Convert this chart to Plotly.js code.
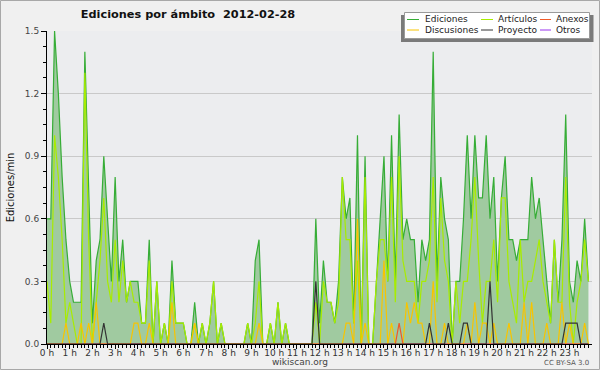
<!DOCTYPE html>
<html><head><meta charset="utf-8">
<script src="https://cdn.plot.ly/plotly-3.0.1.min.js"></script>
<style>html,body{margin:0;padding:0;background:#f0f0f0;}#chart{width:600px;height:370px;}</style>
</head><body><div id="chart"></div>
<script>
// 10-minute buckets, edits per minute (24 h x 6 = 144 points)
const ediciones = [
 0.6,0.6,1.5,1.2,0.8,0.5,0.3,0.2,0.2,0.2,1.4,0.7,
 0.1,0.4,0.5,0.9,0.6,0.3,0.8,0.3,0.5,0.2,0.3,0.3,
 0.3,0.1,0.1,0.5,0.0,0.3,0.0,0.1,0.0,0.4,0.1,0.1,
 0.1,0.0,0.0,0.2,0.0,0.1,0.0,0.1,0.3,0.0,0.1,0.0,
 0.0,0.0,0.0,0.0,0.0,0.1,0.0,0.4,0.5,0.0,0.0,0.1,
 0.0,0.2,0.0,0.1,0.0,0.0,0.0,0.0,0.0,0.0,0.0,0.6,
 0.1,0.4,0.2,0.2,0.1,0.3,0.8,0.6,0.7,0.1,1.0,0.0,
 0.9,0.0,0.0,0.3,0.6,0.9,0.3,1.0,0.3,1.1,0.5,0.6,
 0.5,0.5,0.2,0.5,0.4,0.5,1.4,0.3,0.8,0.6,0.5,0.0,
 0.3,0.3,0.6,1.0,0.6,1.0,0.7,0.7,1.0,0.6,0.8,0.3,
 0.7,0.9,0.5,0.5,0.4,0.5,0.5,0.5,0.8,0.6,0.7,0.5,
 0.3,0.1,0.5,0.2,0.5,1.1,0.3,0.2,0.4,0.3,0.6,0.3
];
const articulos = [
 0.3,0.1,1.0,0.8,0.5,0.1,0.2,0.1,0.0,0.0,1.3,0.5,
 0.0,0.2,0.4,0.7,0.3,0.2,0.5,0.2,0.4,0.2,0.3,0.2,
 0.2,0.1,0.1,0.4,0.0,0.3,0.0,0.1,0.0,0.3,0.1,0.1,
 0.1,0.0,0.0,0.1,0.0,0.1,0.0,0.1,0.3,0.0,0.1,0.0,
 0.0,0.0,0.0,0.0,0.0,0.1,0.0,0.1,0.3,0.0,0.0,0.1,
 0.0,0.2,0.0,0.1,0.0,0.0,0.0,0.0,0.0,0.0,0.0,0.2,
 0.0,0.3,0.2,0.2,0.1,0.2,0.8,0.5,0.5,0.1,0.4,0.0,
 0.8,0.0,0.0,0.3,0.5,0.5,0.3,0.8,0.2,0.9,0.4,0.3,
 0.3,0.3,0.1,0.3,0.3,0.4,0.8,0.2,0.7,0.4,0.3,0.0,
 0.3,0.1,0.3,0.3,0.5,0.8,0.4,0.1,0.3,0.3,0.5,0.2,
 0.7,0.7,0.3,0.2,0.1,0.5,0.2,0.3,0.3,0.4,0.5,0.3,
 0.2,0.1,0.5,0.2,0.2,0.8,0.2,0.0,0.2,0.3,0.5,0.3
];
const discusiones = [
 0,0,0,0,0,0.1,0,0,0,0.1,0,0.1,
 0,0.2,0,0,0,0,0,0,0,0,0,0.1,
 0.1,0,0,0.1,0,0,0,0,0,0.2,0,0,
 0,0,0,0.1,0,0,0,0,0,0,0,0,
 0,0,0,0,0,0,0,0,0.1,0,0,0,
 0,0,0,0,0,0,0,0,0,0,0,0,
 0,0,0,0,0,0,0,0.1,0.1,0,0.6,0,
 0.1,0,0,0,0,0.4,0,0.1,0,0,0,0.2,
 0.1,0.2,0.1,0.1,0,0,0.3,0,0,0.1,0,0,
 0,0,0,0.1,0,0.2,0,0.1,0.1,0,0.1,0,
 0,0,0.1,0,0,0,0.2,0,0.2,0,0,0,
 0.1,0,0,0,0.2,0,0.1,0,0,0,0.1,0
];
const proyecto = [
 0,0,0,0,0,0,0,0,0,0,0,0,
 0,0,0,0.1,0,0,0,0,0,0,0,0,
 0,0,0,0,0,0,0,0,0,0,0,0,
 0,0,0,0,0,0,0,0,0,0,0,0,
 0,0,0,0,0,0,0,0,0,0,0,0,
 0,0,0,0,0,0,0,0,0,0,0,0.3,
 0,0,0,0,0,0,0,0,0,0,0,0,
 0,0,0,0,0,0,0,0,0,0,0,0,
 0,0,0,0,0,0.1,0,0,0,0,0.1,0,
 0,0,0.1,0.1,0,0,0,0,0,0.3,0,0,
 0,0,0,0,0,0,0,0,0,0,0,0,
 0,0,0,0,0,0.1,0.1,0.1,0.1,0,0,0
];
const anexos = [
 0,0,0,0,0,0,0,0,0,0,0,0,
 0,0,0,0,0,0,0,0,0,0,0,0,
 0,0,0,0,0,0,0,0,0,0,0,0,
 0,0,0,0,0,0,0,0,0,0,0,0,
 0,0,0,0,0,0,0,0,0,0,0,0,
 0,0,0,0,0,0,0,0,0,0,0,0,
 0,0,0,0,0,0,0,0,0,0,0,0,
 0,0,0,0,0,0,0,0,0,0.1,0,0,
 0,0,0,0,0,0,0,0,0,0,0,0,
 0,0,0,0,0,0,0,0,0,0,0,0,
 0,0,0,0,0,0,0,0,0,0,0,0,
 0,0,0,0,0,0,0,0,0,0,0,0
];
const otros = [
 0,0,0,0,0,0,0,0,0,0,0,0,
 0,0,0,0,0,0,0,0,0,0,0,0,
 0,0,0,0,0,0,0,0,0,0,0,0,
 0,0,0,0,0,0,0,0,0,0,0,0,
 0,0,0,0,0,0,0,0,0,0,0,0,
 0,0,0,0,0,0,0,0,0,0,0,0,
 0,0,0,0,0,0,0,0,0,0,0,0,
 0,0,0,0,0,0,0,0,0,0,0,0,
 0,0,0,0,0,0,0,0,0,0,0,0,
 0,0,0,0,0,0,0,0,0,0,0,0,
 0,0,0,0,0,0,0,0,0,0,0,0,
 0,0,0,0,0,0,0,0,0,0,0,0
];
const seriesNames = ['Ediciones','Artículos','Anexos','Discusiones','Proyecto','Otros'];
const titleText = 'Ediciones por ámbito\u00a0\u00a02012-02-28';

// time axis: hours (10-minute steps)
const hours = ediciones.map((_, i) => i / 6);

const colors = {
  'Ediciones':'#36ad36', 'Artículos':'#a8ec00', 'Anexos':'#f05a28',
  'Discusiones':'#f8c400', 'Proyecto':'#333333', 'Otros':'#9933ee'
};
const dataBy = {
  'Ediciones':ediciones, 'Artículos':articulos, 'Anexos':anexos,
  'Discusiones':discusiones, 'Proyecto':proyecto, 'Otros':otros
};

const traces = [];
traces.push({x:hours, y:ediciones, name:'Ediciones', type:'scatter', mode:'lines',
  fill:'tozeroy', fillcolor:'rgb(160,202,160)', line:{color:colors['Ediciones'], width:1.2}});
['Otros','Artículos','Discusiones','Anexos','Proyecto'].forEach(n => {
  traces.push({x:hours, y:dataBy[n], name:n, type:'scatter', mode:'lines',
    line:{color:colors[n], width:1.2}});
});

// plot area in pixels
const L = 47, R = 592, T = 31, B = 344;
const px = v => (v - L) / (R - L);
const py = v => (B - v) / (B - T);

const shapes = [
  {type:'rect', xref:'paper', yref:'paper', x0:px(0.5), x1:px(599.5), y0:py(369.5), y1:py(0.5),
   line:{color:'#a8a8a8', width:1}, fillcolor:'rgba(0,0,0,0)'},
  {type:'rect', xref:'paper', yref:'paper', x0:px(401), x1:px(593.5), y0:py(42), y1:py(15),
   line:{width:0}, fillcolor:'#7a7a7a'},
  {type:'rect', xref:'paper', yref:'paper', x0:px(404.5), x1:px(589.5), y0:py(38.5), y1:py(12.5),
   line:{color:'#9a9a9a', width:1}, fillcolor:'#ffffff'}
];
const annotations = [];
const legendCols = [[407, 419, 424], [481, 493, 497], [540, 551, 555]];
const legendRows = [19.5, 30];
const legendLayout = [['Ediciones','Artículos','Anexos'],['Discusiones','Proyecto','Otros']];
legendLayout.forEach((row, r) => row.forEach((n, c) => {
  const [a, b, t] = legendCols[c];
  shapes.push({type:'line', xref:'paper', yref:'paper', x0:px(a), x1:px(b), y0:py(legendRows[r]), y1:py(legendRows[r]),
    line:{color:colors[n], width:1}});
  annotations.push({xref:'paper', yref:'paper', x:px(t), y:py(legendRows[r]), xanchor:'left', yanchor:'middle',
    text:n, showarrow:false, borderpad:0, font:{family:'DejaVu Sans', size:9, color:'#222'}});
}));
annotations.push({xref:'paper', yref:'paper', x:px(300), y:py(362), xanchor:'center', yanchor:'middle',
  text:'wikiscan.org', showarrow:false, font:{family:'DejaVu Sans', size:9, color:'#444'}});
annotations.push({xref:'paper', yref:'paper', x:px(591), y:py(363), xanchor:'right', yanchor:'middle',
  text:'CC BY-SA 3.0', showarrow:false, font:{family:'DejaVu Sans', size:7, color:'#555'}});

const layout = {
  width:600, height:370,
  margin:{l:L, r:600-R, t:T, b:370-B, pad:0},
  paper_bgcolor:'#f0f0f0', plot_bgcolor:'#ecedef',
  showlegend:false,
  font:{family:'DejaVu Sans', color:'#333'},
  title:{text:titleText, x:188/600, xanchor:'center', y:1-14/370, yanchor:'middle',
    font:{family:'DejaVu Sans', size:11.3, weight:'bold', color:'#111'}},
  xaxis:{range:[0,23.99], tickmode:'linear', tick0:0, dtick:1, ticksuffix:' h',
    ticks:'outside', ticklen:4, tickwidth:1, tickcolor:'#000', ticklabelstandoff:-4,
    showline:true, linecolor:'#000', linewidth:1, showgrid:false, zeroline:false,
    tickfont:{family:'DejaVu Sans', size:9, color:'#333'},
    minor:{tickmode:'linear', tick0:0, dtick:1/6, ticks:'outside', ticklen:3, tickcolor:'#000', showgrid:false},
    fixedrange:true},
  yaxis:{range:[0,1.5], tickmode:'linear', tick0:0, dtick:0.3, tickformat:'.1f',
    ticks:'outside', ticklen:5, tickwidth:1, tickcolor:'#000',
    showline:true, linecolor:'#000', linewidth:1,
    showgrid:true, gridcolor:'#c9c9c9', gridwidth:1, zeroline:false,
    tickfont:{family:'DejaVu Sans', size:9, color:'#444'},
    minor:{tickmode:'linear', tick0:0, dtick:0.075, ticks:'outside', ticklen:3, tickcolor:'#000', showgrid:false},
    title:{text:'Ediciones/min', standoff:8, font:{family:'DejaVu Sans', size:10, color:'#111'}},
    fixedrange:true},
  shapes:shapes,
  annotations:annotations
};
Plotly.newPlot('chart', traces, layout, {staticPlot:true, displayModeBar:false});
</script>
</body></html>
